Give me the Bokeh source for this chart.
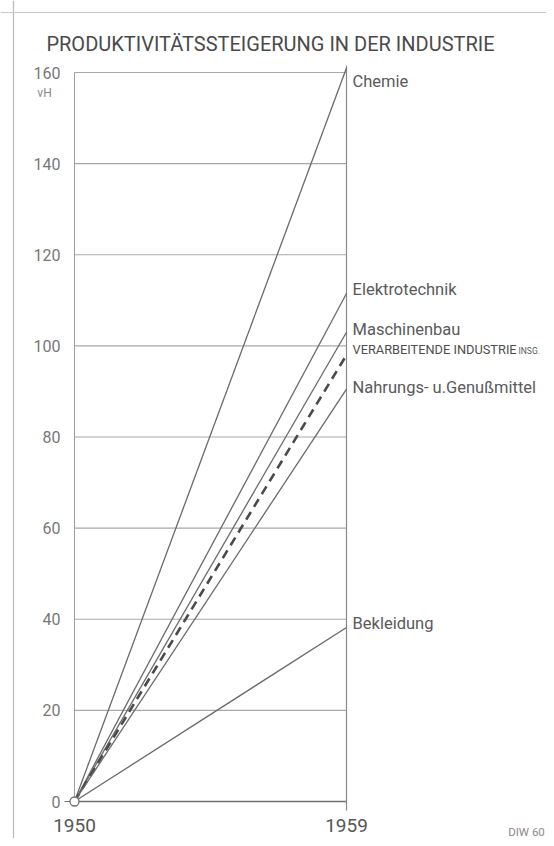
from bokeh.plotting import figure
from bokeh.models import ColumnDataSource, Range1d, Span
from bokeh.core.properties import value
from bokeh.embed import file_html
from bokeh.resources import INLINE

# ---- data ----
years = [1950, 1959]
series_names = ["Chemie", "Elektrotechnik", "Maschinenbau",
                "VERARBEITENDE INDUSTRIE", "Nahrungs- u.Genußmittel", "Bekleidung"]
start_values = [0, 0, 0, 0, 0, 0]
end_values = [161, 111.5, 103, 98, 90.5, 38.2]
label_y = [158, 112.4, 103.6, 99.3, 90.9, 39.1]
y_ticks = [0, 20, 40, 60, 80, 100, 120, 140, 160]
y_tick_labels = ["0", "20", "40", "60", "80", "100", "120", "140", "160"]
x_tick_labels = ["1950", "1959"]
title_text = "PRODUKTIVITÄTSSTEIGERUNG IN DER INDUSTRIE"
unit_text = "vH"
suffix_text = "INSG."
source_text = "DIW 60"

FONT = "Roboto"
TXT = "#5a5a5a"
LINE = "#6a6a6a"

W, H = 546, 838
PX_YR = 30.222
PX_U = 4.556
x0 = 1950 - 74 / PX_YR
x1 = x0 + W / PX_YR
y1 = 801 / PX_U
y0 = -(H - 801) / PX_U

p = figure(width=W, height=H, output_backend="svg", toolbar_location=None,
           x_range=Range1d(x0, x1), y_range=Range1d(y0, y1),
           min_border=0, min_border_left=0, min_border_right=0,
           min_border_top=0, min_border_bottom=0)
p.axis.visible = False
p.grid.visible = False
p.outline_line_color = None
p.background_fill_color = "white"
p.border_fill_color = "white"

# outer scan frame
p.add_layout(Span(location=x0 + 13 / PX_YR, dimension="height",
                  line_color="#b8b8b8", line_width=1.2))
p.add_layout(Span(location=y1 - 12 / PX_U, dimension="width",
                  line_color="#c8c8c8", line_width=1.2))

# horizontal grid lines
grid_src = ColumnDataSource(dict(x0=[years[0]] * (len(y_ticks) - 1),
                                 x1=[years[1]] * (len(y_ticks) - 1),
                                 y=y_ticks[1:]))
p.segment(x0="x0", y0="y", x1="x1", y1="y", source=grid_src,
          line_color="#a8a8a8", line_width=1.1)

# left axis line
p.segment(x0=[years[0]], y0=[0], x1=[years[0]], y1=[y_ticks[-1]],
          line_color="#a0a0a0", line_width=1.1)
# right vertical line
p.segment(x0=[years[1]], y0=[-2], x1=[years[1]], y1=[end_values[0] + 0.5],
          line_color="#8a8a8a", line_width=1.2)
# bottom axis
p.segment(x0=[years[0]], y0=[0], x1=[years[1]], y1=[0],
          line_color="#707070", line_width=1.6)
# zero tick
p.segment(x0=[years[0] - 10 / PX_YR], y0=[0], x1=[years[0]], y1=[0],
          line_color="#707070", line_width=1.2)

# series lines
for name, s, e in zip(series_names, start_values, end_values):
    if name.startswith("VERARBEITENDE"):
        p.line(years, [s, e], line_color="#4a4a4a", line_width=2.6,
               line_dash="9 6")
    else:
        p.line(years, [s, e], line_color=LINE, line_width=1.3)

# origin circle
p.scatter([years[0]], [0], size=9, marker="circle", fill_color="white",
          line_color="#707070", line_width=1.3)

# series labels
normal = [i for i, n in enumerate(series_names) if not n.startswith("VERARBEITENDE")]
special = [i for i, n in enumerate(series_names) if n.startswith("VERARBEITENDE")]
lab_src = ColumnDataSource(dict(x=[years[1]] * len(normal),
                                y=[label_y[i] for i in normal],
                                t=[series_names[i] for i in normal]))
p.text(x="x", y="y", text="t", source=lab_src, x_offset=6,
       text_font=value(FONT), text_font_size="16.5px", text_color=TXT,
       text_baseline="middle", text_align="left")
p.text(x=[years[1]] * len(special), y=[label_y[i] for i in special],
       text=[series_names[i] for i in special], x_offset=6,
       text_font=value(FONT), text_font_size="12.8px", text_color="#4e4e4e",
       text_baseline="middle", text_align="left")
p.text(x=[years[1]] * len(special), y=[label_y[i] for i in special],
       text=[suffix_text], x_offset=172, y_offset=1.5,
       text_font=value(FONT), text_font_size="8.5px", text_color=TXT,
       text_baseline="middle", text_align="left")

# y tick labels
p.text(x=[years[0]] * len(y_ticks), y=y_ticks, text=y_tick_labels,
       x_offset=-14, text_font=value(FONT), text_font_size="16px",
       text_color="#777777", text_baseline="middle", text_align="right")
p.text(x=[years[0]], y=[y_ticks[-1]], text=[unit_text], x_offset=-30, y_offset=20,
       text_font=value(FONT), text_font_size="12px",
       text_color="#888888", text_baseline="middle", text_align="center")

# x tick labels
p.text(x=years, y=[0, 0], text=x_tick_labels, y_offset=24,
       text_font=value(FONT), text_font_size="19px", text_color="#555555",
       text_baseline="middle", text_align="center")

# title
p.text(x=[years[0]], y=[y_ticks[-1]], text=[title_text], x_offset=196, y_offset=-29,
       text_font=value(FONT), text_font_size="20px", text_color="#4a4a4a",
       text_baseline="middle", text_align="center")

# source note
p.text(x=[years[1]], y=[0], text=[source_text], x_offset=180, y_offset=30,
       text_font=value(FONT), text_font_size="11.5px", text_color="#8a8a8a",
       text_baseline="middle", text_align="center")

open("out.html", "w").write(file_html(p, INLINE))
